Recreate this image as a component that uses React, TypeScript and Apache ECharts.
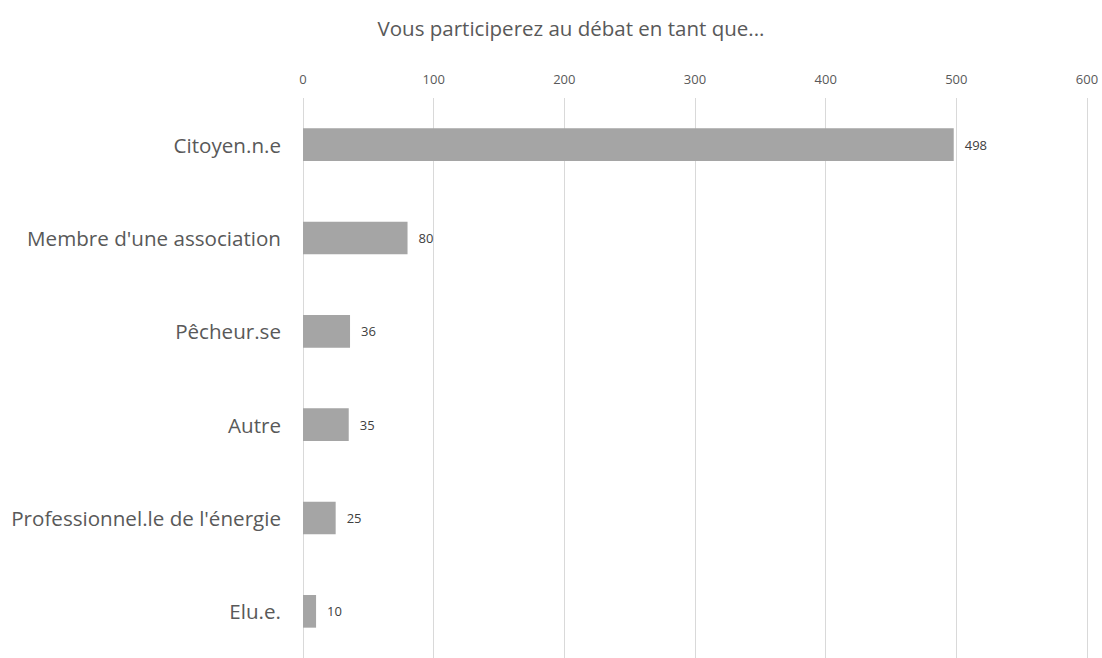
import React, { useEffect, useRef } from "react";
import * as echarts from "echarts";

const categories = [
  "Citoyen.n.e",
  "Membre d'une association",
  "Pêcheur.se",
  "Autre",
  "Professionnel.le de l'énergie",
  "Elu.e.",
];
const values = [498, 80, 36, 35, 25, 10];
const titleText = "Vous participerez au débat en tant que...";
const FONT = "'Open Sans', 'Noto Sans', sans-serif";

export default function App() {
  const ref = useRef<HTMLDivElement>(null);
  useEffect(() => {
    if (!ref.current) return;
    const chart = echarts.init(ref.current, undefined, { renderer: "svg" });
    chart.setOption({
      animation: false,
      title: {
        text: titleText,
        left: 566,
        top: 12,
        textAlign: "center",
        textStyle: { fontFamily: FONT, fontSize: 20.5, fontWeight: "normal", color: "#595959" },
      },
      grid: { left: 303, right: 15, top: 98, bottom: -8, containLabel: false },
      xAxis: {
        type: "value",
        position: "top",
        min: 0,
        max: 600,
        interval: 100,
        axisLine: { show: false },
        axisTick: { show: false },
        axisLabel: { fontFamily: FONT, fontSize: 13, color: "#595959", margin: 13 },
        splitLine: { lineStyle: { color: "#d9d9d9", width: 1 } },
      },
      yAxis: {
        type: "category",
        inverse: true,
        data: categories,
        axisLine: { show: false },
        axisTick: { show: false },
        axisLabel: { fontFamily: FONT, fontSize: 20.6, color: "#595959", margin: 22 },
      },
      series: [
        {
          type: "bar",
          data: values,
          barWidth: "35%",
          itemStyle: { color: "#a5a5a5" },
          label: {
            show: true,
            position: "right",
            distance: 11,
            fontFamily: FONT,
            fontSize: 13,
            color: "#404040",
          },
        },
      ],
    });
    return () => chart.dispose();
  }, []);
  return (
    <div
      ref={ref}
      style={{ position: "fixed", left: 0, top: 0, width: 1102, height: 658, background: "#fff" }}
    />
  );
}
